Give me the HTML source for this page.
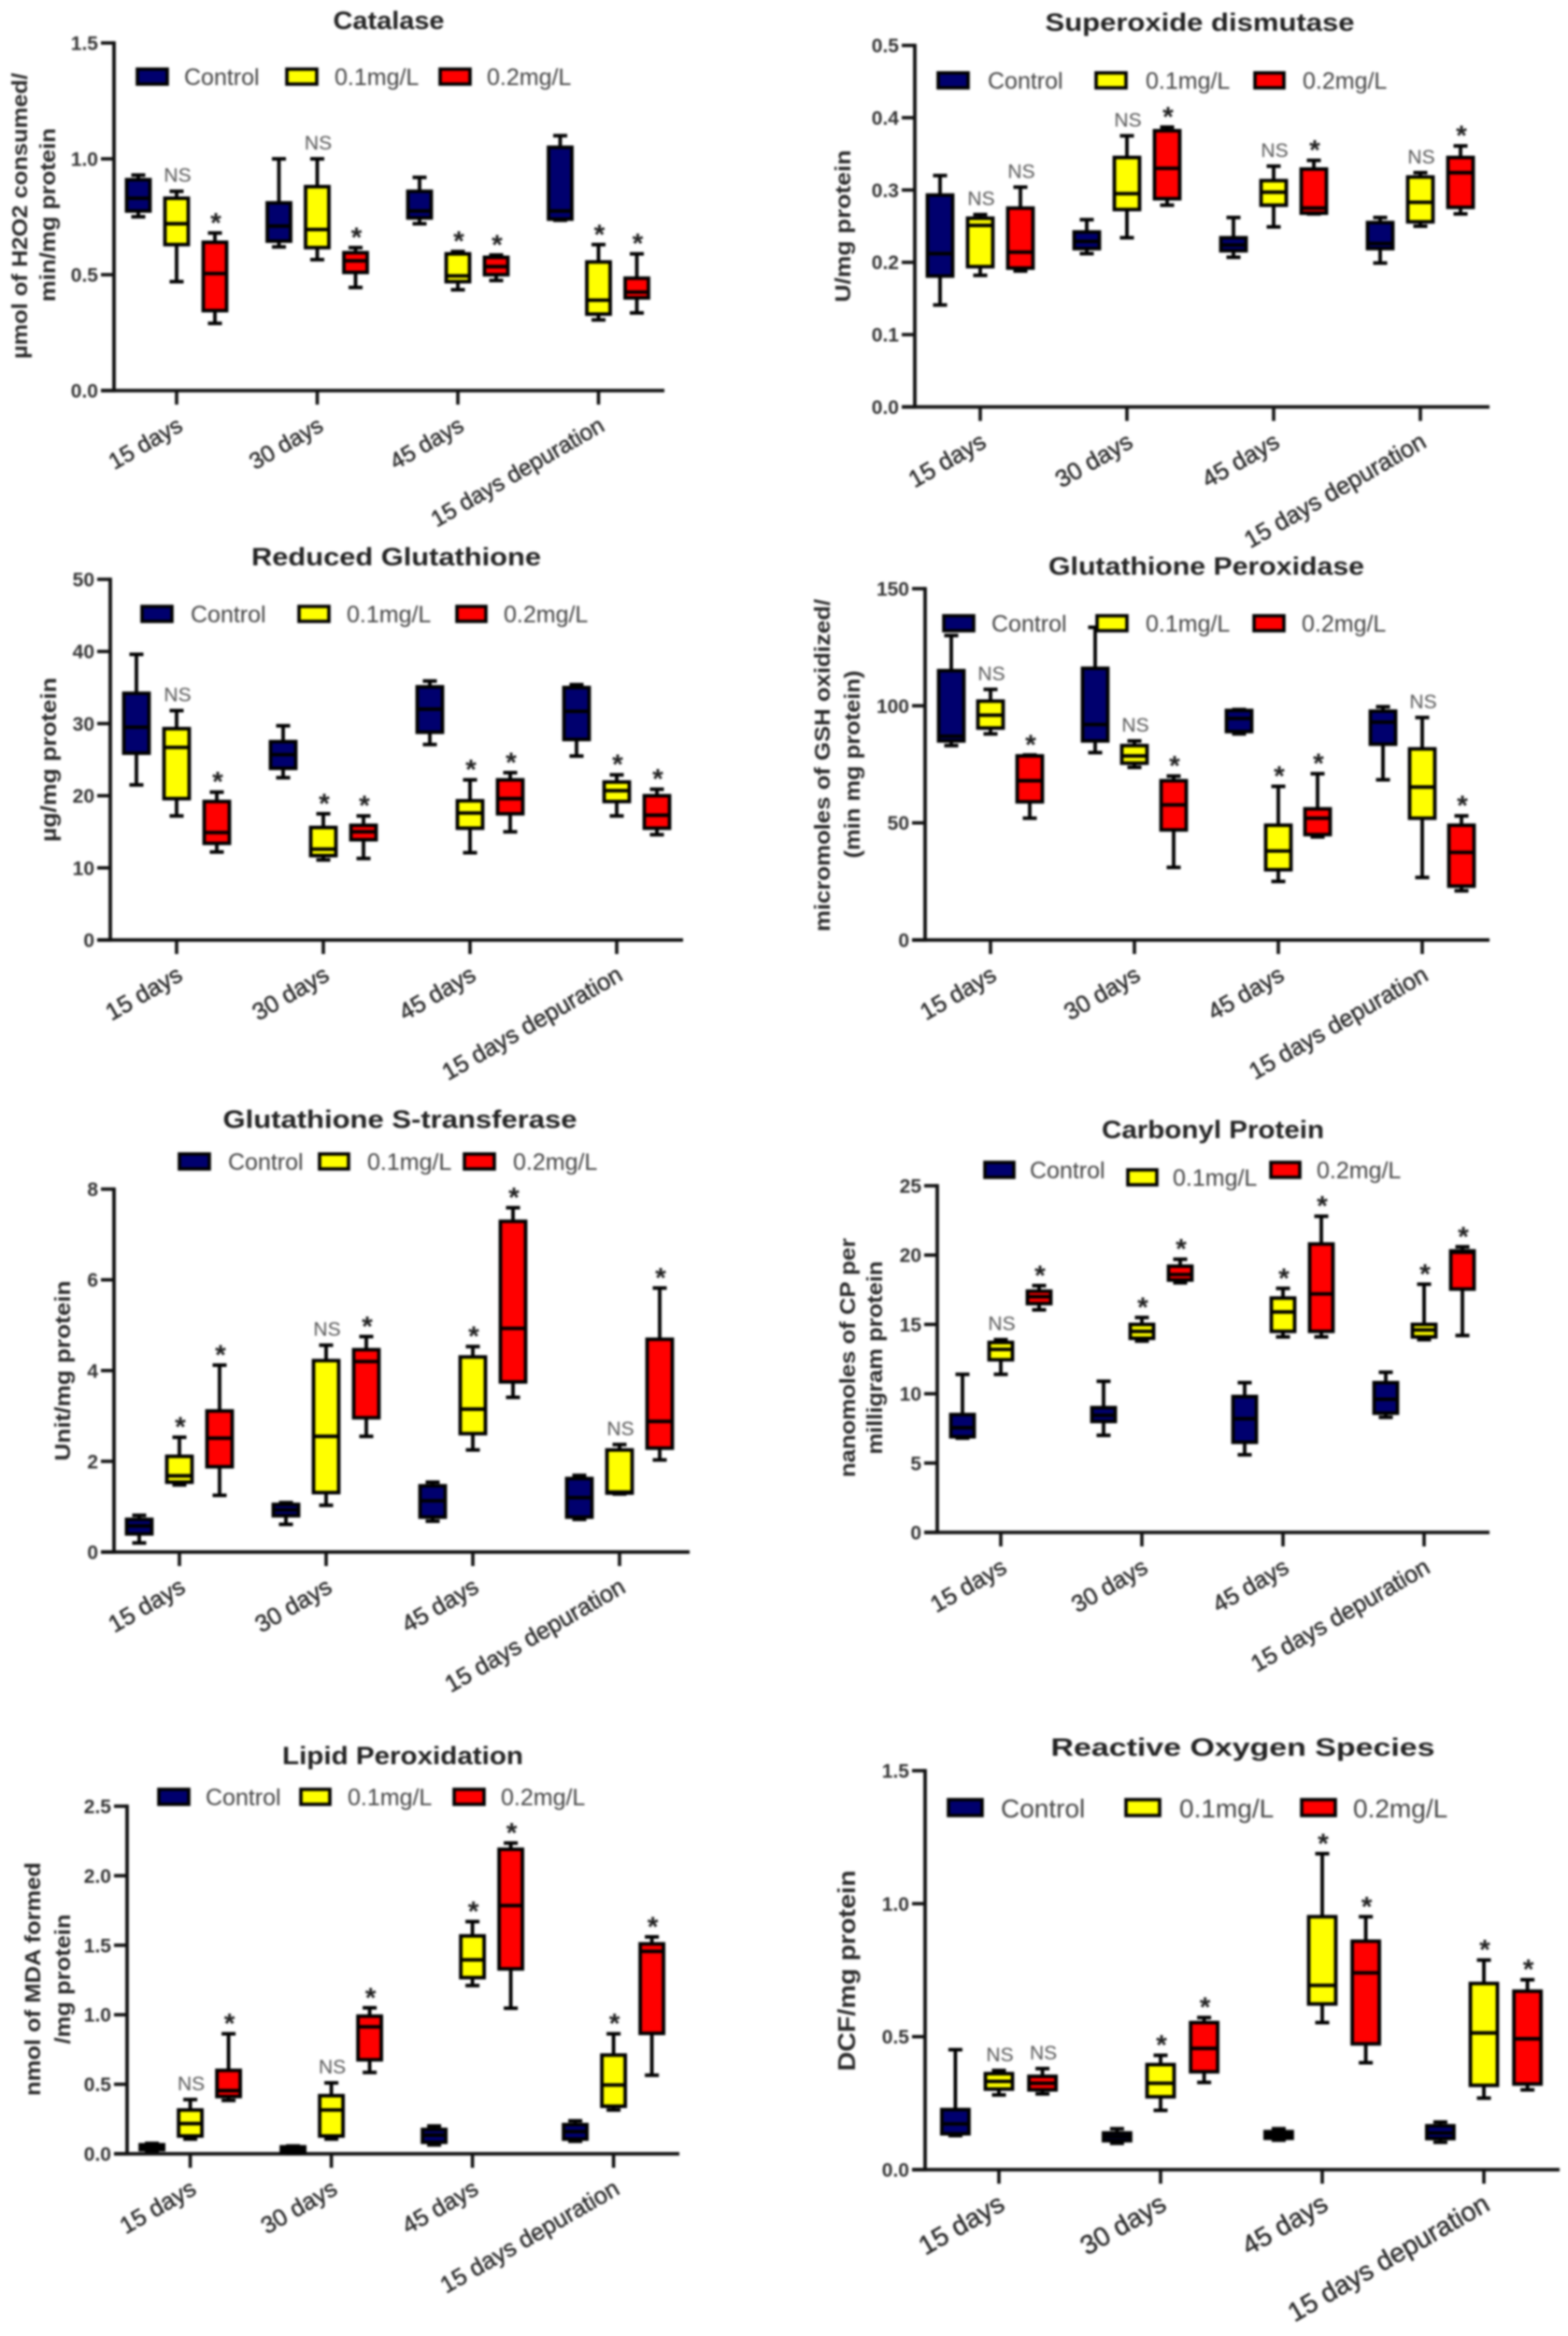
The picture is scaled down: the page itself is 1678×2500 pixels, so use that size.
<!DOCTYPE html>
<html lang="en">
<head>
<meta charset="utf-8">
<title>Oxidative stress biomarkers box plots</title>
<style>
html,body{margin:0;padding:0;background:#fff;}
svg{display:block;filter:blur(1px);}
text{font-family:"Liberation Sans",Arial,sans-serif;}
.title{font-weight:700;font-size:27px;fill:#222;text-anchor:middle;}
.ylab{font-weight:700;font-size:23px;fill:#2a2a2a;text-anchor:middle;}
.leg{font-size:25px;fill:#444;}
.sw{stroke:#000;stroke-width:3.6;}
</style>
</head>
<body>
<svg id="figure" xmlns="http://www.w3.org/2000/svg" width="1678" height="2500" viewBox="0 0 1678 2500">
<rect x="0" y="0" width="1678" height="2500" fill="#fff"/>

<g>
  <g id="catalase-marks"></g>
  <text class="title" x="416" y="31" textLength="119" lengthAdjust="spacingAndGlyphs">Catalase</text>
  <text class="ylab" transform="translate(29 231) rotate(-90)" textLength="306" lengthAdjust="spacingAndGlyphs">µmol of H2O2 consumed/</text>
  <text class="ylab" transform="translate(59 230) rotate(-90)" textLength="186" lengthAdjust="spacingAndGlyphs">min/mg protein</text>
  <g>
    <rect class="sw" x="147" y="74" width="32" height="16" fill="#00006e"/>
    <text class="leg" x="197" y="91">Control</text>
    <rect class="sw" x="307" y="74" width="32" height="16" fill="#ffff00"/>
    <text class="leg" x="358" y="91">0.1mg/L</text>
    <rect class="sw" x="471" y="74" width="32" height="16" fill="#ff0000"/>
    <text class="leg" x="521" y="91">0.2mg/L</text>
  </g>
</g>

<g>
  <g id="sod-marks"></g>
  <text class="title" x="1284" y="33" textLength="331" lengthAdjust="spacingAndGlyphs">Superoxide dismutase</text>
  <text class="ylab" transform="translate(910 242) rotate(-90)" textLength="163" lengthAdjust="spacingAndGlyphs">U/mg protein</text>
  <g>
    <rect class="sw" x="1004" y="78" width="32" height="16" fill="#00006e"/>
    <text class="leg" x="1057" y="95">Control</text>
    <rect class="sw" x="1173" y="78" width="32" height="16" fill="#ffff00"/>
    <text class="leg" x="1226" y="95">0.1mg/L</text>
    <rect class="sw" x="1343" y="78" width="31" height="16" fill="#ff0000"/>
    <text class="leg" x="1394" y="95">0.2mg/L</text>
  </g>
</g>

<g>
  <g id="gsh-marks"></g>
  <text class="title" x="424" y="605" textLength="310" lengthAdjust="spacingAndGlyphs">Reduced Glutathione</text>
  <text class="ylab" transform="translate(60 813) rotate(-90)" textLength="176" lengthAdjust="spacingAndGlyphs">µg/mg protein</text>
  <g>
    <rect class="sw" x="152" y="649" width="32" height="16" fill="#00006e"/>
    <text class="leg" x="204" y="666">Control</text>
    <rect class="sw" x="320" y="649" width="32" height="16" fill="#ffff00"/>
    <text class="leg" x="371" y="666">0.1mg/L</text>
    <rect class="sw" x="489" y="649" width="31" height="16" fill="#ff0000"/>
    <text class="leg" x="539" y="666">0.2mg/L</text>
  </g>
</g>

<g>
  <g id="gpx-marks"></g>
  <text class="title" x="1291" y="615" textLength="338" lengthAdjust="spacingAndGlyphs">Glutathione Peroxidase</text>
  <text class="ylab" transform="translate(888 819) rotate(-90)" textLength="356" lengthAdjust="spacingAndGlyphs">micromoles of GSH oxidized/</text>
  <text class="ylab" transform="translate(920 818) rotate(-90)" textLength="201" lengthAdjust="spacingAndGlyphs">(min mg protein)</text>
  <g>
    <rect class="sw" x="1010" y="659" width="32" height="16" fill="#00006e"/>
    <text class="leg" x="1061" y="676">Control</text>
    <rect class="sw" x="1174" y="659" width="32" height="16" fill="#ffff00"/>
    <text class="leg" x="1226" y="676">0.1mg/L</text>
    <rect class="sw" x="1342" y="659" width="32" height="16" fill="#ff0000"/>
    <text class="leg" x="1393" y="676">0.2mg/L</text>
  </g>
</g>

<g>
  <g id="gst-marks"></g>
  <text class="title" x="428" y="1207" textLength="379" lengthAdjust="spacingAndGlyphs">Glutathione S-transferase</text>
  <text class="ylab" transform="translate(75 1467) rotate(-90)" textLength="193" lengthAdjust="spacingAndGlyphs">Unit/mg protein</text>
  <g>
    <rect class="sw" x="192" y="1235" width="32" height="16" fill="#00006e"/>
    <text class="leg" x="244" y="1252">Control</text>
    <rect class="sw" x="342" y="1235" width="31" height="16" fill="#ffff00"/>
    <text class="leg" x="393" y="1252">0.1mg/L</text>
    <rect class="sw" x="497" y="1235" width="32" height="16" fill="#ff0000"/>
    <text class="leg" x="549" y="1252">0.2mg/L</text>
  </g>
</g>

<g>
  <g id="cp-marks"></g>
  <text class="title" x="1298" y="1218" textLength="238" lengthAdjust="spacingAndGlyphs">Carbonyl Protein</text>
  <text class="ylab" transform="translate(915 1453) rotate(-90)" textLength="256" lengthAdjust="spacingAndGlyphs">nanomoles of CP per</text>
  <text class="ylab" transform="translate(944 1453) rotate(-90)" textLength="207" lengthAdjust="spacingAndGlyphs">milligram protein</text>
  <g>
    <rect class="sw" x="1054" y="1244" width="31" height="16" fill="#00006e"/>
    <text class="leg" x="1102" y="1261">Control</text>
    <rect class="sw" x="1207" y="1252" width="31" height="16" fill="#ffff00"/>
    <text class="leg" x="1255" y="1269">0.1mg/L</text>
    <rect class="sw" x="1360" y="1244" width="31" height="16" fill="#ff0000"/>
    <text class="leg" x="1409" y="1261">0.2mg/L</text>
  </g>
</g>

<g>
  <g id="mda-marks"></g>
  <text class="title" x="431" y="1888" textLength="258" lengthAdjust="spacingAndGlyphs">Lipid Peroxidation</text>
  <text class="ylab" transform="translate(43 2118) rotate(-90)" textLength="250" lengthAdjust="spacingAndGlyphs">nmol of MDA formed</text>
  <text class="ylab" transform="translate(75 2118) rotate(-90)" textLength="139" lengthAdjust="spacingAndGlyphs">/mg protein</text>
  <g>
    <rect class="sw" x="170" y="1915" width="32" height="16" fill="#00006e"/>
    <text class="leg" x="220" y="1932">Control</text>
    <rect class="sw" x="322" y="1915" width="31" height="16" fill="#ffff00"/>
    <text class="leg" x="372" y="1932">0.1mg/L</text>
    <rect class="sw" x="486" y="1915" width="32" height="16" fill="#ff0000"/>
    <text class="leg" x="536" y="1932">0.2mg/L</text>
  </g>
</g>

<g>
  <g id="ros-marks"></g>
  <text class="title" x="1330" y="1879" textLength="411" lengthAdjust="spacingAndGlyphs">Reactive Oxygen Species</text>
  <text class="ylab" transform="translate(915 2109) rotate(-90)" style="font-size:26px" textLength="215" lengthAdjust="spacingAndGlyphs">DCF/mg protein</text>
  <g>
    <rect class="sw" x="1015" y="1926" width="36" height="17" fill="#00006e"/>
    <text class="leg" style="font-size:28px" x="1071" y="1945">Control</text>
    <rect class="sw" x="1205" y="1926" width="36" height="17" fill="#ffff00"/>
    <text class="leg" style="font-size:28px" x="1262" y="1945">0.1mg/L</text>
    <rect class="sw" x="1393" y="1926" width="36" height="17" fill="#ff0000"/>
    <text class="leg" style="font-size:28px" x="1448" y="1945">0.2mg/L</text>
  </g>
</g>
</svg>

<script>
// Shared category labels
const categories = ["15 days", "30 days", "45 days", "15 days depuration"];

// Each row: [low whisker, Q1, median, Q3, high whisker], one row per category
const catalaseControl = [[0.75,0.775,0.83,0.91,0.93],[0.62,0.645,0.71,0.81,1.0],[0.72,0.745,0.775,0.86,0.92],[0.735,0.74,0.775,1.05,1.1]];
const catalaseLow = [[0.47,0.63,0.72,0.83,0.86],[0.565,0.617,0.695,0.88,1.0],[0.435,0.47,0.495,0.59,0.6],[0.305,0.33,0.39,0.555,0.63]];
const catalaseHigh = [[0.29,0.345,0.505,0.64,0.68],[0.445,0.51,0.56,0.595,0.617],[0.475,0.5,0.535,0.575,0.585],[0.335,0.40,0.425,0.485,0.59]];
const catalaseTicks = ["0.0","0.5","1.0","1.5"];
const catalaseTickValues = [0,0.5,1,1.5];
const catalaseMarks = [["","NS","*"],["","NS","*"],["","*","*"],["","*","*"]];

const sodControl = [[0.141,0.181,0.212,0.293,0.32],[0.212,0.219,0.229,0.242,0.259],[0.207,0.216,0.224,0.234,0.262],[0.199,0.219,0.226,0.255,0.262]];
const sodLow = [[0.182,0.194,0.251,0.261,0.266],[0.234,0.273,0.295,0.345,0.375],[0.249,0.279,0.297,0.313,0.333],[0.25,0.256,0.283,0.318,0.324]];
const sodHigh = [[0.188,0.192,0.214,0.275,0.304],[0.279,0.288,0.33,0.382,0.387],[0.267,0.268,0.275,0.329,0.341],[0.267,0.276,0.324,0.345,0.361]];
const sodTicks = ["0.0","0.1","0.2","0.3","0.4","0.5"];
const sodTickValues = [0,0.1,0.2,0.3,0.4,0.5];
const sodMarks = [["","NS","NS"],["","NS","*"],["","NS","*"],["","NS","*"]];

const gshControl = [[21.5,25.9,29.5,34.2,39.6],[22.5,23.8,25.7,27.5,29.7],[27.1,28.8,32,35.1,35.9],[25.5,27.8,31.7,35,35.4]];
const gshLow = [[17.2,19.6,26.7,29.3,31.8],[11.1,11.7,12.6,15.6,17.5],[12.1,15.5,17.6,19.3,22.2],[17.2,19.2,20.7,21.9,22.9]];
const gshHigh = [[12.2,13.4,14.9,19.2,20.5],[11.3,13.9,15,15.9,17.2],[15,17.5,19.6,22.2,23.2],[14.6,15.5,17.3,20,20.9]];
const gshTicks = ["0","10","20","30","40","50"];
const gshTickValues = [0,10,20,30,40,50];
const gshMarks = [["","NS","*"],["","*","*"],["","*","*"],["","*","*"]];

const gpxControl = [[83,85,87,115,130],[80,85,92,116,133.5],[88,89,94.6,98,98.4],[68.4,83.6,93,97.7,99.6]];
const gpxLow = [[88,90.5,96,102,107],[73.7,75.5,78.6,83,85],[25,30,38,49,65.6],[26.7,52,65.3,81.6,95]];
const gpxHigh = [[52,59,68,78.6,79],[31,47,57.7,68,70],[44,45,52,56,71],[21,23,37.4,49,53]];
const gpxTicks = ["0","50","100","150"];
const gpxTickValues = [0,50,100,150];
const gpxMarks = [["","NS","*"],["","NS","*"],["","*","*"],["","NS","*"]];

const gstControl = [[0.2,0.4,0.575,0.72,0.81],[0.61,0.8,0.93,1.05,1.09],[0.68,0.77,1.13,1.46,1.54],[0.72,0.77,1.2,1.62,1.69]];
const gstLow = [[1.48,1.54,1.68,2.11,2.53],[1.03,1.31,2.55,4.22,4.56],[2.25,2.61,3.15,4.3,4.53],[1.28,1.3,1.32,2.25,2.37]];
const gstHigh = [[1.25,1.88,2.51,3.11,4.12],[2.55,2.96,4.2,4.46,4.75],[3.41,3.75,4.93,7.29,7.59],[2.03,2.29,2.88,4.69,5.82]];
const gstTicks = ["0","2","4","6","8"];
const gstTickValues = [0,2,4,6,8];
const gstMarks = [["","*","*"],["","NS","*"],["","*","*"],["","NS","*"]];

const cpControl = [[6.8,6.9,7.55,8.5,11.4],[7,8,8.45,9,10.9],[5.6,6.5,8.2,9.8,10.8],[8.3,8.6,9.6,10.8,11.55]];
const cpLow = [[11.4,12.45,13.2,13.7,13.9],[13.8,14,14.5,15,15.5],[14.1,14.5,15.9,16.9,17.6],[13.9,14.1,14.6,15,17.9]];
const cpHigh = [[16.05,16.5,17,17.4,17.8],[18,18.2,18.6,19.2,19.7],[14.1,14.5,17.2,20.8,22.8],[14.2,17.55,20.2,20.3,20.6]];
const cpTicks = ["0","5","10","15","20","25"];
const cpTickValues = [0,5,10,15,20,25];
const cpMarks = [["","NS","*"],["","*","*"],["","*","*"],["","*","*"]];

const mdaControl = [[0.02,0.03,0.05,0.065,0.075],[0.003,0.01,0.03,0.05,0.056],[0.064,0.083,0.134,0.175,0.2],[0.09,0.106,0.16,0.21,0.237]];
const mdaLow = [[0.106,0.128,0.217,0.315,0.39],[0.106,0.128,0.315,0.418,0.51],[1.21,1.267,1.395,1.567,1.67],[0.315,0.342,0.495,0.71,0.863]];
const mdaHigh = [[0.384,0.412,0.454,0.6,0.863],[0.585,0.676,0.913,0.99,1.05],[1.047,1.33,1.785,2.19,2.235],[0.565,0.866,1.456,1.51,1.56]];
const mdaTicks = ["0.0","0.5","1.0","1.5","2.0","2.5"];
const mdaTickValues = [0,0.5,1,1.5,2,2.5];
const mdaMarks = [["","NS","*"],["","NS","*"],["","*","*"],["","*","*"]];

const rosControl = [[0.128,0.135,0.172,0.226,0.451],[0.099,0.109,0.124,0.138,0.154],[0.111,0.118,0.131,0.143,0.154],[0.103,0.117,0.138,0.165,0.179]];
const rosLow = [[0.281,0.303,0.332,0.361,0.373],[0.223,0.274,0.325,0.395,0.43],[0.553,0.623,0.693,0.951,1.188],[0.269,0.317,0.514,0.70,0.788]];
const rosHigh = [[0.285,0.3,0.325,0.351,0.38],[0.328,0.368,0.456,0.553,0.572],[0.402,0.473,0.74,0.859,0.951],[0.3,0.322,0.492,0.671,0.714]];
const rosTicks = ["0.0","0.5","1.0","1.5"];
const rosTickValues = [0,0.5,1,1.5];
const rosMarks = [["","NS","NS"],["","*","*"],["","*","*"],["","*","*"]];

const seriesFills = ["#00006e", "#ffff00", "#ff0000"];
const seriesKeys = ["control", "0-1mg", "0-2mg"];

const NS = "http://www.w3.org/2000/svg";
function mk(tag, attrs, parent) {
  const node = document.createElementNS(NS, tag);
  for (const k in attrs) node.setAttribute(k, attrs[k]);
  parent.appendChild(node);
  return node;
}

function drawPanel(cfg) {
  const root = document.getElementById(cfg.id + "-marks");
  const id = cfg.id;
  const yMax = cfg.tickValues[cfg.tickValues.length - 1];
  const yScale = v => cfg.bottom - (v / yMax) * (cfg.bottom - cfg.top);
  const xCat = c => cfg.first + c * cfg.step;
  const xBox = (c, s) => xCat(c) + (s - 1) * cfg.offset;

  // Y axis with ticks
  const yAxis = mk("line", {x1: cfg.axisX, x2: cfg.axisX, y1: cfg.top - 1.7, y2: cfg.bottom + 1.7, stroke: "#111", "stroke-width": 3.8}, root);
  
  
  cfg.tickValues.forEach((v, i) => {
    const tick = mk("line", {x1: cfg.axisX - 14, x2: cfg.axisX, y1: yScale(v), y2: yScale(v), stroke: "#111", "stroke-width": 3.6}, root);
    
    
    const label = mk("text", {x: cfg.axisX - 17, y: yScale(v) + 7.5, "text-anchor": "end", "font-size": 21, "font-weight": 700, fill: "#333"}, root);
    label.textContent = cfg.tickLabels[i];
    
    
  });

  // X axis with ticks and labels
  const xAxis = mk("line", {x1: cfg.axisX - 14, x2: cfg.right, y1: cfg.bottom, y2: cfg.bottom, stroke: "#111", "stroke-width": 3.8}, root);
  
  
  categories.forEach((name, c) => {
    const tick = mk("line", {x1: xCat(c), x2: xCat(c), y1: cfg.bottom, y2: cfg.bottom + 15, stroke: "#111", "stroke-width": 3.6}, root);
    
    
    const lx = xCat(c) + 8, ly = cfg.bottom + 42;
    const label = mk("text", {transform: "translate(" + lx + " " + ly + ") rotate(-30)", "text-anchor": "end", "font-size": cfg.xFont, "font-weight": 400, fill: "#2c2c2c", stroke: "#2c2c2c", "stroke-width": 0.5}, root);
    label.textContent = name;
    
    
  });

  // Box plots
  cfg.series.forEach((rows, s) => {
    rows.forEach((row, c) => {
      const cx = xBox(c, s);
      const half = cfg.boxW / 2, capHalf = 7.5;
      const g = mk("g", {}, root);
      
      
      const sty = {stroke: "#000", "stroke-width": 3.8};
      mk("line", Object.assign({x1: cx, x2: cx, y1: yScale(row[0]), y2: yScale(row[4])}, sty), g);
      mk("line", Object.assign({x1: cx - capHalf, x2: cx + capHalf, y1: yScale(row[0]), y2: yScale(row[0])}, sty), g);
      mk("line", Object.assign({x1: cx - capHalf, x2: cx + capHalf, y1: yScale(row[4]), y2: yScale(row[4])}, sty), g);
      mk("rect", Object.assign({x: cx - half, y: yScale(row[3]), width: cfg.boxW, height: Math.max(0.5, yScale(row[1]) - yScale(row[3])), fill: seriesFills[s]}, sty), g);
      mk("line", Object.assign({x1: cx - half, x2: cx + half, y1: yScale(row[2]), y2: yScale(row[2])}, sty), g);

      const mark = cfg.marks[c][s];
      if (mark) {
        const ay = yScale(row[4]);
        const t = mk("text", {
          x: cx + 1,
          y: mark === "*" ? ay - 1 : ay - 10,
          "text-anchor": "middle",
          "font-size": mark === "*" ? 30 : 21,
          "font-weight": mark === "*" ? 700 : 400,
          fill: mark === "*" ? "#222" : "#555"
        }, root);
        t.textContent = mark;
        
        
      }
    });
  });
}

drawPanel({id:"catalase", axisX:122, top:46, bottom:418, right:711, first:189, step:150.5, offset:41, boxW:25, xFont:24.6,
  tickValues:catalaseTickValues, tickLabels:catalaseTicks, marks:catalaseMarks, series:[catalaseControl,catalaseLow,catalaseHigh]});
drawPanel({id:"sod", axisX:979, top:48.6, bottom:435.5, right:1594, first:1049, step:157, offset:43, boxW:27, xFont:25.8,
  tickValues:sodTickValues, tickLabels:sodTicks, marks:sodMarks, series:[sodControl,sodLow,sodHigh]});
drawPanel({id:"gsh", axisX:118, top:620, bottom:1006, right:731, first:189, step:157, offset:43, boxW:27, xFont:25.6,
  tickValues:gshTickValues, tickLabels:gshTicks, marks:gshMarks, series:[gshControl,gshLow,gshHigh]});
drawPanel({id:"gpx", axisX:990, top:630, bottom:1006, right:1594, first:1060, step:154, offset:42, boxW:27, xFont:25.4,
  tickValues:gpxTickValues, tickLabels:gpxTicks, marks:gpxMarks, series:[gpxControl,gpxLow,gpxHigh]});
drawPanel({id:"gst", axisX:122, top:1272.6, bottom:1661, right:738, first:192, step:157, offset:43, boxW:27, xFont:25.6,
  tickValues:gstTickValues, tickLabels:gstTicks, marks:gstMarks, series:[gstControl,gstLow,gstHigh]});
drawPanel({id:"cp", axisX:1003, top:1269, bottom:1640, right:1594, first:1071, step:151, offset:41, boxW:25, xFont:25.4,
  tickValues:cpTickValues, tickLabels:cpTicks, marks:cpMarks, series:[cpControl,cpLow,cpHigh]});
drawPanel({id:"mda", axisX:136, top:1933, bottom:2305, right:727, first:203.6, step:151, offset:41, boxW:25, xFont:25.4,
  tickValues:mdaTickValues, tickLabels:mdaTicks, marks:mdaMarks, series:[mdaControl,mdaLow,mdaHigh]});
drawPanel({id:"ros", axisX:990, top:1895, bottom:2322, right:1669, first:1069, step:173, offset:46.6, boxW:29, xFont:28.6,
  tickValues:rosTickValues, tickLabels:rosTicks, marks:rosMarks, series:[rosControl,rosLow,rosHigh]});
</script>
</body>
</html>
